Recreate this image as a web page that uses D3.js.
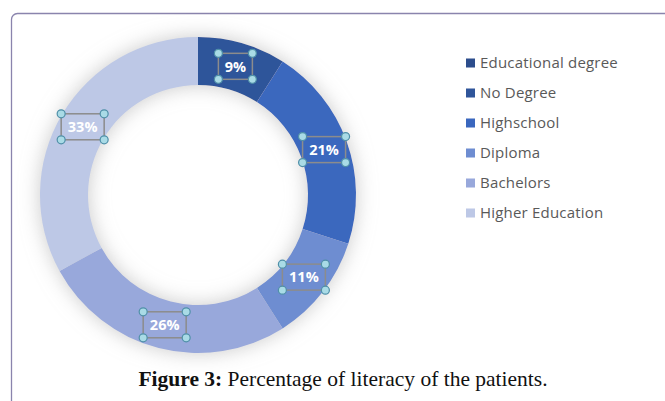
<!DOCTYPE html>
<html><head><meta charset="utf-8">
<script src="https://cdn.jsdelivr.net/npm/d3@7"></script>
<style>body{margin:0;background:#fff;}svg{display:block;}</style>
</head><body>
<svg id="c" width="665" height="401"></svg>
<script>
const categories = ["No Degree","Highschool","Diploma","Bachelors","Higher Education"];
const values = [9,21,11,26,33];
const legendLabels = ["Educational degree","No Degree","Highschool","Diploma","Bachelors","Higher Education"];
const colors = ["#2f559a","#3a67be","#6e8dd1","#98a8db","#bdc8e6"];
const legendColors = ["#2c4d8c","#2f559a","#3a67be","#6e8dd1","#98a8db","#bdc8e6"];

const svg = d3.select("#c");
const defs = svg.append("defs");
const f = defs.append("filter").attr("id","sh").attr("x","-30%").attr("y","-30%").attr("width","160%").attr("height","160%");
f.append("feGaussianBlur").attr("in","SourceAlpha").attr("stdDeviation",10).attr("result","b");
f.append("feColorMatrix").attr("in","b").attr("type","matrix")
  .attr("values","0 0 0 0 0.45  0 0 0 0 0.45  0 0 0 0 0.45  0 0 0 0.7 0").attr("result","s");
const fm = f.append("feMerge");
fm.append("feMergeNode").attr("in","s");
fm.append("feMergeNode").attr("in","SourceGraphic");

// frame
svg.append("rect").attr("x",11.5).attr("y",13.5).attr("width",700).attr("height",420)
  .attr("rx",6).attr("fill","none").attr("stroke","#8a84ad").attr("stroke-width",1.3);

const cx = 198, cy = 195, rO = 158, rI = 110;
const pie = d3.pie().sort(null).value(d=>d)(values);
const arc = d3.arc().innerRadius(rI).outerRadius(rO);
const g = svg.append("g").attr("transform",`translate(${cx},${cy})`);
g.append("g").attr("filter","url(#sh)").selectAll("path").data(pie).join("path")
  .attr("d",arc).attr("fill",(d,i)=>colors[i]);

const lArc = d3.arc().innerRadius((rI+rO)/2).outerRadius((rI+rO)/2);
const lab = g.selectAll("g.lab").data(pie).join("g").attr("class","lab")
  .attr("transform",d=>{const c=lArc.centroid(d);return `translate(${c[0]},${c[1]})`;});
const bw = (d)=> d.data<10 ? 34 : 43, bh = 26;
lab.append("rect").attr("x",d=>-bw(d)/2).attr("y",-bh/2).attr("width",bw).attr("height",bh)
  .attr("fill","none").attr("stroke","#8c8c8c").attr("stroke-width",1.5);
lab.append("text").attr("text-anchor","middle").attr("dy","0.36em")
  .attr("font-family","'Open Sans',sans-serif").attr("font-weight","bold").attr("font-size",14.5)
  .attr("fill","#fff").text(d=>d.data+"%");
lab.each(function(d){
  const s=d3.select(this), w=bw(d);
  [[-w/2,-bh/2],[w/2,-bh/2],[-w/2,bh/2],[w/2,bh/2]].forEach(p=>{
    s.append("circle").attr("cx",p[0]).attr("cy",p[1]).attr("r",4)
      .attr("fill","#a9dbe6").attr("stroke","#4f8fa8").attr("stroke-width",1.2);
  });
});

// legend
const lg = svg.append("g").attr("transform","translate(466,63)");
const it = lg.selectAll("g").data(legendLabels).join("g").attr("transform",(d,i)=>`translate(0,${i*30})`);
it.append("rect").attr("x",0).attr("y",-4.5).attr("width",9).attr("height",9).attr("fill",(d,i)=>legendColors[i]);
it.append("text").attr("x",14).attr("dy","0.35em").attr("font-family","'Open Sans',sans-serif")
  .attr("font-size",15).attr("letter-spacing",0.2).attr("fill","#595959").text(d=>d);

// caption
const cap = svg.append("text").attr("x",343).attr("y",386).attr("text-anchor","middle")
  .attr("font-family","'Liberation Serif','Times New Roman',serif").attr("font-size",21.5).attr("fill","#111");
cap.append("tspan").attr("font-weight","bold").text("Figure 3:");
cap.append("tspan").text(" Percentage of literacy of the patients.");
</script>
</body></html>
